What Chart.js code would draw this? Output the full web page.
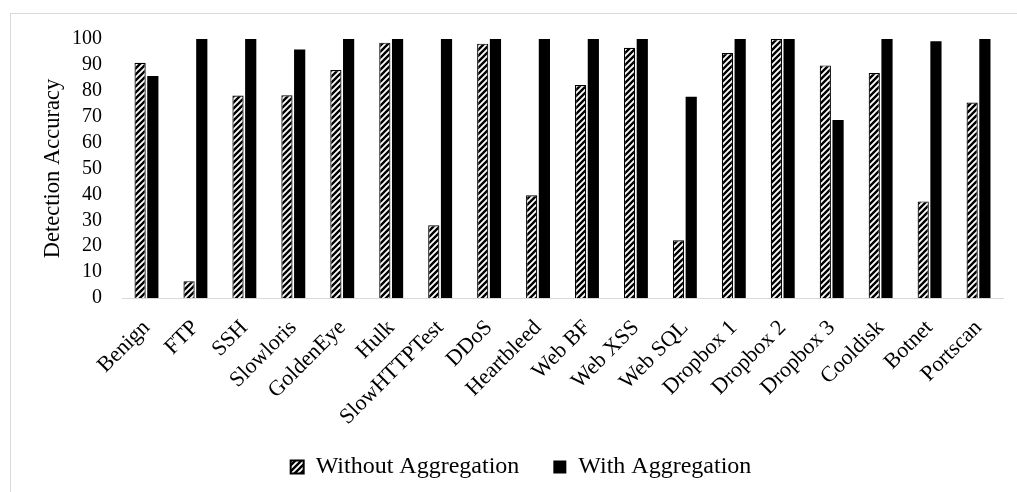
<!DOCTYPE html>
<html>
<head>
<meta charset="utf-8">
<script src="https://cdn.jsdelivr.net/npm/chart.js@4"></script>
<style>
  body { margin: 0; background: #fff; }
  #wrap { position: relative; width: 1017px; height: 492px; overflow: hidden; }
  #frame { position: absolute; left: 10px; top: 13px; width: 1100px; height: 600px;
           border-left: 1px solid #d9d9d9; border-top: 1px solid #d9d9d9; }
  #myChart { position: absolute; left: 0; top: 0; }
</style>
</head>
<body>
<div id="wrap">
  <div id="frame"></div>
  <canvas id="myChart" width="1017" height="492"></canvas>
</div>
<script>
// categories and values
let categories = ["Benign", "FTP", "SSH", "Slowloris", "GoldenEye", "Hulk", "SlowHTTPTest", "DDoS",
  "Heartbleed", "Web BF", "Web XSS", "Web SQL", "Dropbox 1", "Dropbox 2", "Dropbox 3",
  "Cooldisk", "Botnet", "Portscan"]

let withoutAggregation = [90.8, 6.5, 78.2, 78.3, 88, 98.6, 28.1, 98.2, 39.7, 82.2, 96.6, 22.3, 94.6, 100, 89.8, 86.9, 37.3, 75.5]
let withAggregation = [85.7, 100, 100, 95.9, 100, 100, 100, 100, 100, 100, 100, 77.7, 100, 100, 68.7, 100, 99.1, 100]

let yMin = 0
let yMax = 100
let yStep = 10

// hatch pattern for the "without" bars
function makeHatch() {
    let c = document.createElement('canvas')
    c.width = 6
    c.height = 6
    let p = c.getContext('2d')
    p.fillStyle = '#fff'
    p.fillRect(0, 0, 6, 6)
    p.strokeStyle = '#000'
    p.lineWidth = 2.4
    p.beginPath()
    p.moveTo(-1, 7); p.lineTo(7, -1)
    p.moveTo(-4, 4); p.lineTo(4, -4)
    p.moveTo(2, 10); p.lineTo(10, 2)
    p.stroke()
    return p.createPattern(c, 'repeat')
}

let serif = "'Liberation Serif', 'Times New Roman', serif"

let ctx = document.getElementById('myChart').getContext('2d')
let chart = new Chart(ctx, {
    type: 'bar',
    data: {
        labels: categories,
        datasets: [{
            label: "Without Aggregation",
            backgroundColor: makeHatch(),
            borderColor: '#000',
            borderWidth: 1.2,
            data: withoutAggregation
        }, {
            label: "With Aggregation",
            backgroundColor: '#000',
            borderColor: '#222',
            borderWidth: 0,
            data: withAggregation
        }]
    },
    options: {
        responsive: false,
        animation: false,
        devicePixelRatio: 1,
        layout: { padding: { left: 39, top: 39, right: 14, bottom: 3 } },
        datasets: {
            bar: { categoryPercentage: 0.52, barPercentage: 0.88 }
        },
        scales: {
            x: {
                grid: { display: false, drawTicks: false },
                border: { display: true, color: '#d9d9d9', width: 1 },
                ticks: {
                    color: '#000',
                    font: { family: serif, size: 22 },
                    minRotation: 45,
                    maxRotation: 45,
                    autoSkip: false,
                    padding: 17
                },
                afterFit: function (scale) { scale.height = 147 }
            },
            y: {
                min: yMin,
                max: yMax,
                grid: { display: false, drawTicks: false },
                border: { display: false },
                ticks: {
                    stepSize: yStep,
                    autoSkip: false,
                    color: '#000',
                    font: { family: serif, size: 20 },
                    padding: 20
                },
                title: {
                    display: true,
                    text: 'Detection Accuracy',
                    color: '#000',
                    font: { family: serif, size: 22.5 },
                    padding: { top: 0.5, bottom: 0 }
                },
                afterFit: function (scale) { scale.width = 83 }
            }
        },
        plugins: {
            tooltip: { enabled: false },
            legend: {
                position: 'bottom',
                labels: {
                    color: '#000',
                    font: { family: serif, size: 24 },
                    boxWidth: 13,
                    boxHeight: 13,
                    padding: 10,
                    generateLabels: function (chart) {
                        let items = Chart.defaults.plugins.legend.labels.generateLabels(chart)
                        // wider gap between the two entries, like the original
                        items[0].text = items[0].text + '    '
                        items[0].lineWidth = 2
                        return items
                    }
                }
            }
        }
    }
})
</script>
</body>
</html>
